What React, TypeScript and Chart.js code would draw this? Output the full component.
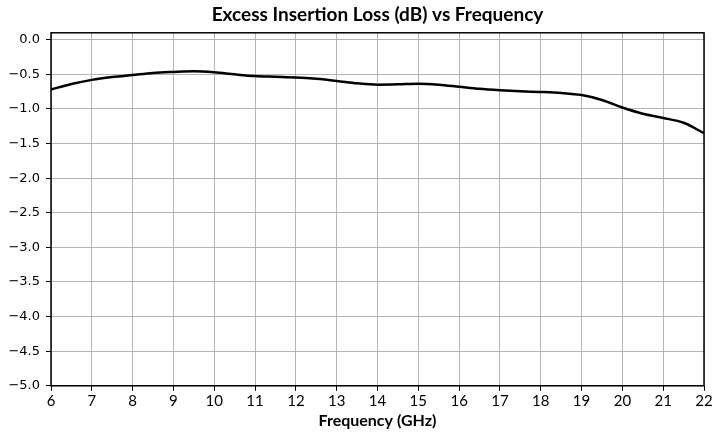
import React, { useEffect, useRef } from "react";
import { Chart, registerables } from "chart.js";

Chart.register(...registerables);

const freqGHz = [6, 6.5, 7, 7.5, 8, 8.5, 9, 9.5, 10, 10.5, 11, 11.5, 12, 12.5, 13, 13.5, 14, 14.5, 15, 15.5, 16, 16.5, 17, 17.5, 18, 18.5, 19, 19.5, 20, 20.5, 21, 21.5, 22];
const lossDb = [-0.72, -0.64, -0.58, -0.54, -0.51, -0.48, -0.465, -0.455, -0.47, -0.5, -0.525, -0.535, -0.545, -0.565, -0.595, -0.63, -0.65, -0.645, -0.635, -0.65, -0.68, -0.71, -0.73, -0.745, -0.755, -0.77, -0.8, -0.87, -0.98, -1.07, -1.13, -1.2, -1.35];
const yTickValues = [0, -0.5, -1, -1.5, -2, -2.5, -3, -3.5, -4, -4.5, -5];
const xTickValues = [6, 7, 8, 9, 10, 11, 12, 13, 14, 15, 16, 17, 18, 19, 20, 21, 22];
const chartTitle = "Excess Insertion Loss (dB) vs Frequency";
const xTitle = "Frequency (GHz)";

const frame = {
  id: "frame",
  afterDraw(chart: any) {
    const { ctx, chartArea } = chart;
    ctx.save();
    ctx.strokeStyle = "#000";
    ctx.lineWidth = 1.5;
    ctx.strokeRect(chartArea.left, chartArea.top, chartArea.right - chartArea.left, chartArea.bottom - chartArea.top);
    ctx.restore();
  },
};

export default function App() {
  const ref = useRef<HTMLCanvasElement>(null);
  useEffect(() => {
    document.body.style.margin = "0";
    const chart = new Chart(ref.current!, {
      type: "line",
      data: {
        datasets: [
          {
            data: freqGHz.map((f, i) => ({ x: f, y: lossDb[i] })),
            borderColor: "#000",
            borderWidth: 2.5,
            pointRadius: 0,
            cubicInterpolationMode: "monotone",
            fill: false,
          },
        ],
      },
      options: {
        animation: false,
        responsive: false,
        layout: { padding: { left: 0, right: 10, top: 0, bottom: 6 } },
        plugins: {
          legend: { display: false },
          tooltip: { enabled: false },
          title: {
            display: true,
            text: chartTitle,
            fullSize: false,
            color: "#000",
            font: { family: "Lato", size: 19, weight: "bold" },
            padding: { top: 3, bottom: 7 },
          },
        },
        scales: {
          x: {
            type: "linear",
            min: 6,
            max: 22,
            afterBuildTicks: (s: any) => {
              s.ticks = xTickValues.map((v) => ({ value: v }));
            },
            grid: { color: "#b4b4b4", lineWidth: 1, tickLength: 5, tickColor: "#000" },
            border: { display: false },
            ticks: {
              color: "#000",
              font: { family: "Lato", size: 15 },
              padding: 1,
              maxRotation: 0,
              autoSkip: false,
            },
            title: {
              display: true,
              text: xTitle,
              color: "#000",
              font: { family: "Lato", size: 16, weight: "bold" },
              padding: { top: 0, bottom: 0 },
            },
          },
          y: {
            type: "linear",
            min: -5,
            max: 0.1,
            afterBuildTicks: (s: any) => {
              s.ticks = yTickValues.map((v) => ({ value: v }));
            },
            afterFit: (s: any) => {
              s.width = 51;
            },
            grid: { color: "#b4b4b4", lineWidth: 1, tickLength: 5, tickColor: "#000" },
            border: { display: false },
            ticks: {
              color: "#000",
              font: { family: "DejaVu Sans", size: 13 },
              padding: 6,
              callback: (v: any) => {
                const n = Number(v);
                const s = Math.abs(n).toFixed(1);
                return n < 0 ? "\u2212" + s : s;
              },
            },
          },
        },
      },
      plugins: [frame],
    } as any);
    return () => chart.destroy();
  }, []);
  return (
    <div style={{ width: 714, height: 436, background: "#fff" }}>
      <canvas ref={ref} width={714} height={436} />
    </div>
  );
}
